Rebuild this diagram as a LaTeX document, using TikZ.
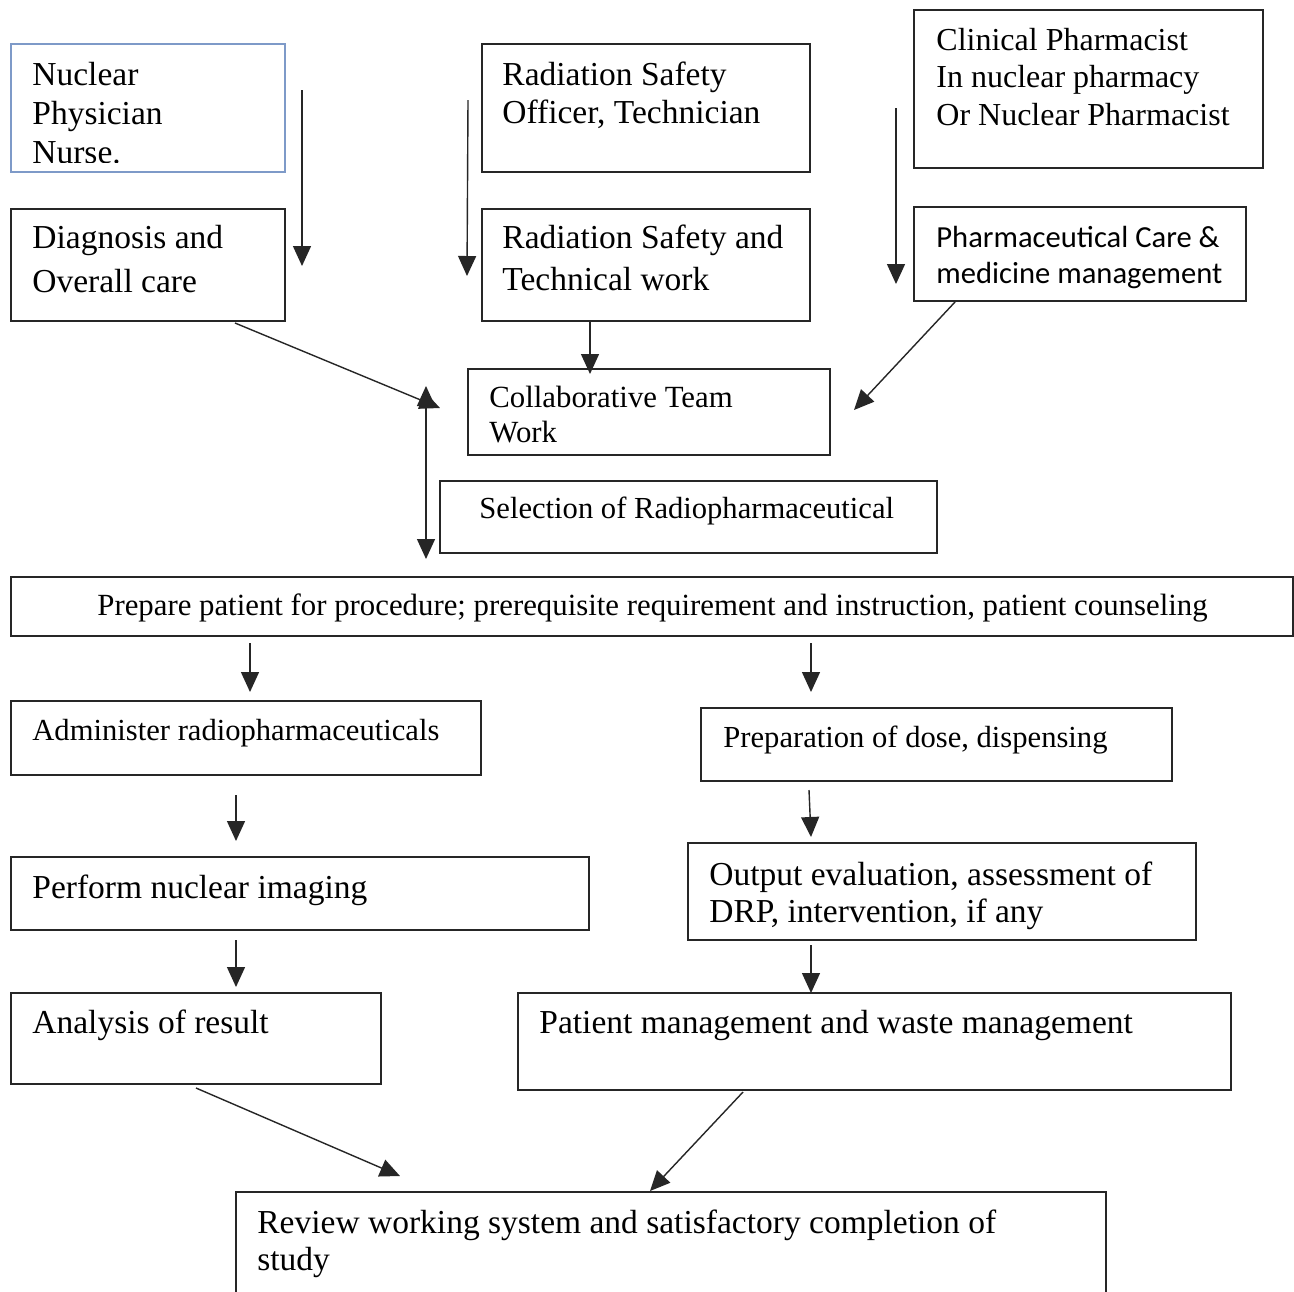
\documentclass[tikz,border=0pt]{standalone}
\usepackage{fontspec}
\setmainfont{Liberation Serif}
\newfontfamily\calib{Carlito}
\usetikzlibrary{arrows.meta,fit}
\definecolor{boxc}{HTML}{262626}
\definecolor{bluec}{HTML}{7E9AC8}
\begin{document}
\begin{tikzpicture}[x=0.5pt,y=-0.5pt,
  box/.style={draw=boxc, line width=0.8pt, inner sep=0pt},
  bluebox/.style={box, draw=bluec},
  txt/.style={inner sep=0pt, anchor=base west, align=left, font=\fontsize{16.75}{21}\selectfont},
  stxt/.style={txt, font=\fontsize{15.3}{18.75}\selectfont},
  arr/.style={draw=black!85, line width=0.7pt, -{Triangle[length=10pt,width=9pt]}},
  darr/.style={draw=black!85, line width=0.7pt, {Triangle[length=10pt,width=9pt]}-{Triangle[length=10pt,width=9pt]}},
]
\useasboundingbox[fill=white] (0,0) rectangle (1294,1291);

% boxes
\node[bluebox, fit={(11,44) (285,172)}] (nurse) {};
\node[box, fit={(11,209) (285,321)}] (diag) {};
\node[box, fit={(482,44) (810,172)}] (rso) {};
\node[box, fit={(482,209) (810,321)}] (rst) {};
\node[box, fit={(914,10) (1263,168)}] (clin) {};
\node[box, fit={(914,207) (1246,301)}] (pharm) {};
\node[box, fit={(468,369) (830,455)}] (collab) {};
\node[box, fit={(440,481) (937,553)}] (sel) {};
\node[box, fit={(11,577) (1293,636)}] (prep) {};
\node[box, fit={(11,701) (481,775)}] (admin) {};
\node[box, fit={(701,708) (1172,781)}] (dose) {};
\node[box, fit={(11,857) (589,930)}] (img) {};
\node[box, fit={(688,843) (1196,940)}] (outp) {};
\node[box, fit={(11,993) (381,1084)}] (anal) {};
\node[box, fit={(518,993) (1231,1090)}] (pman) {};
\node[box, fit={(236,1192) (1106,1320)}] (rev) {};

% texts (base anchor = baseline of last line)
\begin{scope}
  \clip (11,44) rectangle (285,162);
  \node[txt, font=\fontsize{16.75}{19.5}\selectfont] (nurseT) at (32,163) {Nuclear\\Physician\\Nurse.};
\end{scope}
\node[txt, font=\fontsize{16.75}{21.9}\selectfont] (diagT) at (32,292) {Diagnosis and\\Overall care};
\node[txt, font=\fontsize{16.75}{19}\selectfont] (rsoT) at (502,123) {Radiation Safety\\Officer, Technician};
\node[txt, font=\fontsize{16.75}{21}\selectfont] (rstT) at (502,290) {Radiation Safety and\\Technical work};
\node[txt, font=\fontsize{16}{18.75}\selectfont] (clinT) at (936,125) {Clinical Pharmacist\\In nuclear pharmacy\\Or Nuclear Pharmacist};
\node[txt, font=\calib\fontsize{15.3}{18}\selectfont] (pharmT) at (936,283) {Pharmaceutical Care \&\\medicine management};
\node[txt, font=\fontsize{15.4}{17.5}\selectfont] (collabT) at (489,442) {Collaborative Team\\Work};
\node[stxt] (selT) at (479,518) {Selection of Radiopharmaceutical};
\node[txt, font=\fontsize{15.4}{18.75}\selectfont] (prepT) at (97,615) {Prepare patient for procedure; prerequisite requirement and instruction, patient counseling};
\node[stxt] (adminT) at (32,740) {Administer radiopharmaceuticals};
\node[stxt] (doseT) at (723,747) {Preparation of dose, dispensing};
\node[txt] (imgT) at (32,898) {Perform nuclear imaging};
\node[txt, font=\fontsize{16.75}{18.5}\selectfont] (outpT) at (709,922) {Output evaluation, assessment of\\DRP, intervention, if any};
\node[txt] (analT) at (32,1033) {Analysis of result};
\node[txt] (pmanT) at (539,1033) {Patient management and waste management};
\node[txt, font=\fontsize{16.75}{18.5}\selectfont] (revT) at (257,1270) {Review working system and satisfactory completion of\\study};

% connector end points
\coordinate (a1s) at (302,90);   \coordinate (a1e) at (302,266);
\coordinate (a2s) at (468,100);  \coordinate (a2e) at (467,276);
\coordinate (a3s) at (896,108);  \coordinate (a3e) at (896,284);
\coordinate (a4s) at (590,322);  \coordinate (a4e) at (590,374);
\coordinate (a5s) at (235,323);  \coordinate (a5e) at (440,408);
\coordinate (a6s) at (426,386);  \coordinate (a6e) at (426,559);
\coordinate (a7s) at (955,302);  \coordinate (a7e) at (854,410);
\coordinate (a8s) at (250,643);  \coordinate (a8e) at (250,692);
\coordinate (a9s) at (811,643);  \coordinate (a9e) at (811,692);
\coordinate (a10s) at (236,795); \coordinate (a10e) at (236,841);
\coordinate (a11s) at (809,790); \coordinate (a11e) at (811,837);
\coordinate (a12s) at (236,940); \coordinate (a12e) at (236,987);
\coordinate (a13s) at (811,945); \coordinate (a13e) at (811,993);
\coordinate (a14s) at (196,1088);\coordinate (a14e) at (400,1176);
\coordinate (a15s) at (743,1092);\coordinate (a15e) at (650,1191);

\draw[arr] (a1s) -- (a1e);
\draw[arr] (a2s) -- (a2e);
\draw[arr] (a3s) -- (a3e);
\draw[arr] (a4s) -- (a4e);
\draw[arr] (a5s) -- (a5e);
\draw[darr] (a6s) -- (a6e);
\draw[arr] (a7s) -- (a7e);
\draw[arr] (a8s) -- (a8e);
\draw[arr] (a9s) -- (a9e);
\draw[arr] (a10s) -- (a10e);
\draw[arr] (a11s) -- (a11e);
\draw[arr] (a12s) -- (a12e);
\draw[arr] (a13s) -- (a13e);
\draw[arr] (a14s) -- (a14e);
\draw[arr] (a15s) -- (a15e);
\end{tikzpicture}
\end{document}
